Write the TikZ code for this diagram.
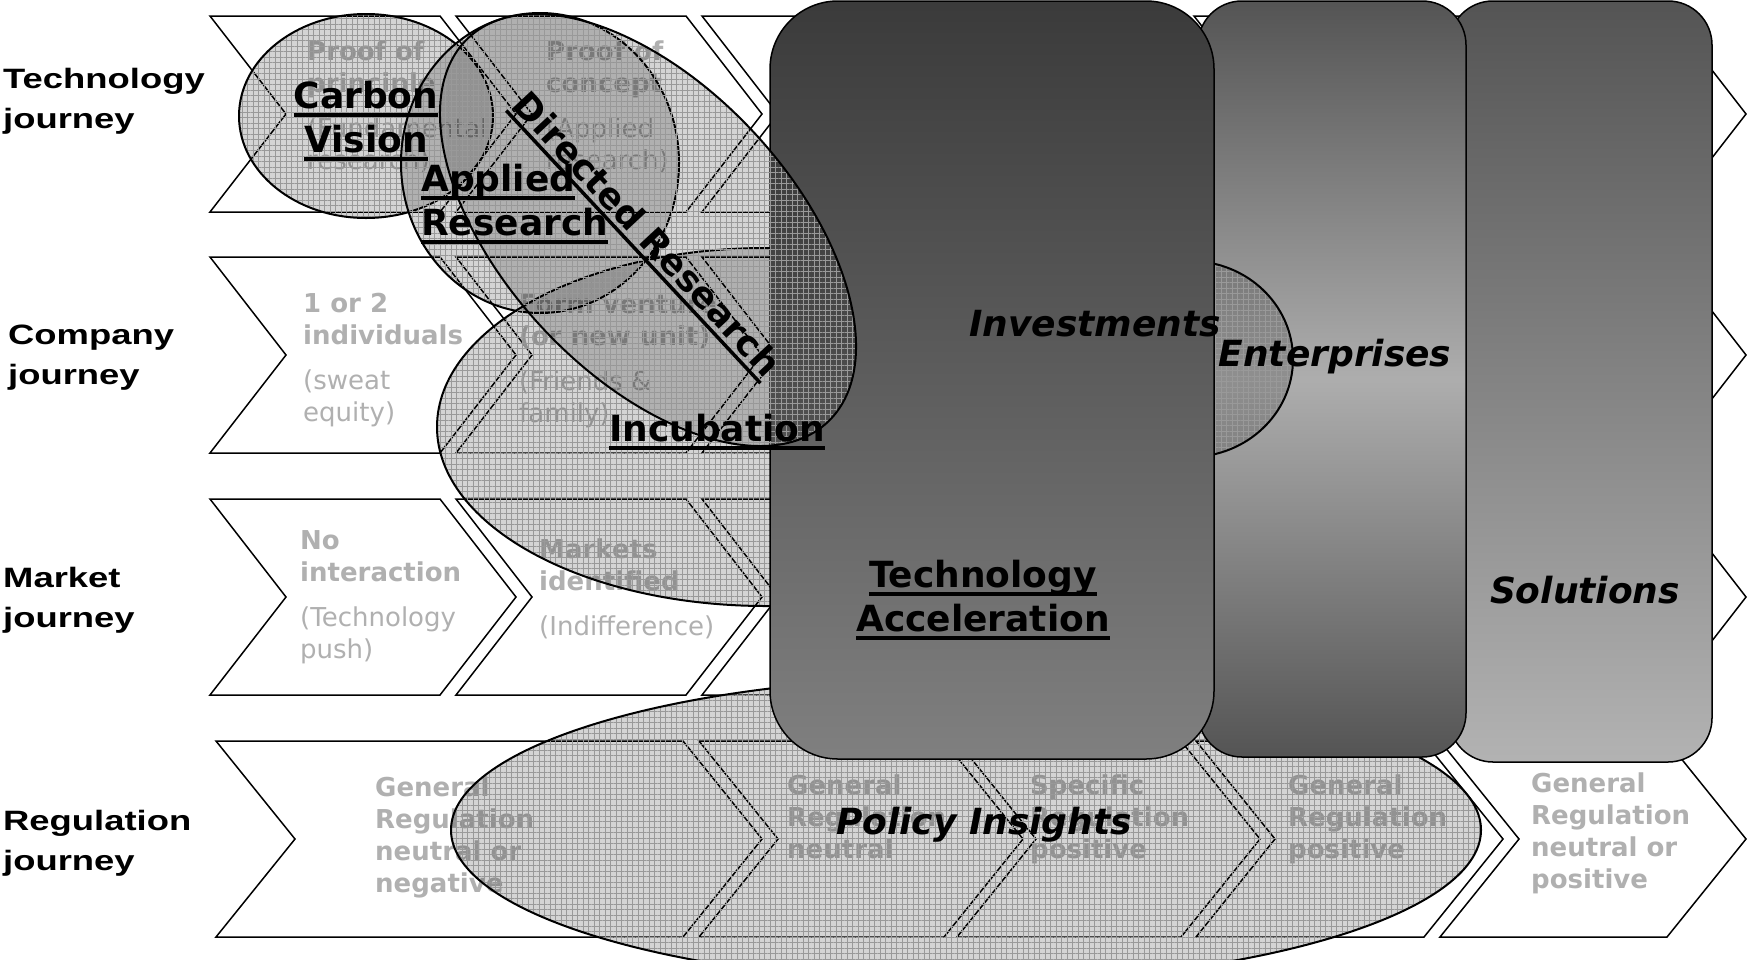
\documentclass[tikz,border=0pt]{standalone}
\usepackage{fontspec}
\setmainfont{DejaVu Sans}
\newfontfamily\labfont[FakeStretch=1.3]{Liberation Sans}
\usetikzlibrary{patterns.meta}
\definecolor{ctxtgray}{HTML}{B0B0B0}
\newsavebox\ulbox
\newcommand\ulx[1]{\sbox\ulbox{#1}\rlap{\rule[-8pt]{\wd\ulbox}{3.5pt}}\usebox\ulbox}
% chevron: x0, x1, top, bottom, depth
\newcommand\chev[5]{%
  \pgfmathsetmacro\cvmid{(#3+#4)/2}%
  \pgfmathsetmacro\cvtip{#2+#5}%
  \pgfmathsetmacro\cvnot{#1+#5}%
  \draw[chevron] (#1,#3) -- (#2,#3) -- (\cvtip,\cvmid) -- (#2,#4) -- (#1,#4) -- (\cvnot,\cvmid) -- cycle;}
% bubble: centre, rx, ry, angle
\newcommand\bubble[4]{%
  \fill[black, fill opacity=0.17, rotate around={#4:(#1)}] (#1) ellipse[x radius=#2, y radius=#3];
  \fill[pattern={Hatch[angle=0,distance=5.5pt,line width=0.45pt]}, pattern color=black!40, fill opacity=0.5, rotate around={#4:(#1)}] (#1) ellipse[x radius=#2, y radius=#3];
  \draw[line width=2pt, rotate around={#4:(#1)}] (#1) ellipse[x radius=#2, y radius=#3];}
\begin{document}
\begin{tikzpicture}[x=1pt, y=-1pt,
  chevron/.style={draw=black, line width=1.5pt, fill=white, line join=miter},
  ctxt/.style={text=ctxtgray, font=\fontsize{26}{32}\selectfont, align=left, inner sep=0pt, anchor=north west},
  lab/.style={font=\labfont\fontsize{28}{40}\selectfont\bfseries, align=left, inner sep=0pt, anchor=west},
  bigtxt/.style={font=\fontsize{36}{44}\selectfont\bfseries, inner sep=0pt, text=black},
  bigit/.style={font=\fontsize{36}{44}\selectfont\bfseries\itshape, inner sep=0pt, text=black},
  boxline/.style={draw=black, line width=1.5pt}
]
\useasboundingbox (0,0) rectangle (1747,959);
\fill[white] (0,0) rectangle (1747,959);

% left labels
\node[lab] (lt) at (3,101) {Technology\\journey};
\node[lab] (lc) at (8,358) {Company\\journey};
\node[lab] (lm) at (3,600) {Market\\journey};
\node[lab] (lr) at (3,843) {Regulation\\journey};

% chevrons rows 1-3
\foreach \yt/\yb in {16/212, 257/453, 499/695}{
  \foreach \xo in {210,456,702,948,1194,1440}{
    \pgfmathsetmacro\xe{\xo+230}
    \chev{\xo}{\xe}{\yt}{\yb}{76}
  }
}
% row 4
\chev{216}{683}{741}{937}{79}
\chev{699}{944}{741}{937}{79}
\chev{957}{1181}{741}{937}{79}
\chev{1196}{1424}{741}{937}{79}
\chev{1440}{1667}{741}{937}{79}

% chevron texts
\node[ctxt] (t11) at (307,40.5) {\textbf{Proof of}\\\textbf{principle}\\[13pt](Fundamental\\research)};
\node[ctxt] (t12) at (546,40.5) {\textbf{Proof of}\\\textbf{concept}\\[13pt](Applied\\research)};
\node[ctxt] (t21) at (303,292.5) {\textbf{1 or 2}\\\textbf{individuals}\\[13pt](sweat\\equity)};
\node[ctxt] (t22) at (519,294.5) {\textbf{Form venture}\\\textbf{(or new unit)}\\[13pt](Friends \&\\family)};
\node[ctxt] (t31) at (300,530.5) {\textbf{No}\\\textbf{interaction}\\[13pt](Technology\\push)};
\node[ctxt] (t32) at (539,538.5) {\textbf{Markets}\\\textbf{identified}\\[13pt](Indifference)};
\node[ctxt, font=\fontsize{26}{32}\selectfont\bfseries] (t41) at (375,776.5) {General\\Regulation\\neutral or\\negative};
\node[ctxt, font=\fontsize{26}{32}\selectfont\bfseries] (t42) at (787,774.5) {General\\Regulation\\neutral};
\node[ctxt, font=\fontsize{26}{32}\selectfont\bfseries] (t43) at (1030,774.5) {Specific\\Regulation\\positive};
\node[ctxt, font=\fontsize{26}{32}\selectfont\bfseries] (t44) at (1288,774.5) {General\\Regulation\\positive};
\node[ctxt, font=\fontsize{26}{32}\selectfont\bfseries] (t45) at (1531,772.5) {General\\Regulation\\neutral or\\positive};

% bubbles below the boxes
\bubble{366,116}{127}{102}{0}
\bubble{540,163}{139}{150}{0}
\bubble{766,427}{329}{179}{0}
\bubble{966,830}{515}{153}{0}

% boxes
\shadedraw[boxline, rounded corners=44pt, top color=black!67, bottom color=black!30] (1449,1) rectangle (1712,762);
\shadedraw[boxline, rounded corners=44pt, top color=black!67, bottom color=black!67, middle color=black!32] (1198,1) rectangle (1466,757);
\bubble{1190,359}{103}{98}{0}
\shadedraw[boxline, rounded corners=68pt, top color=black!77, bottom color=black!50] (770,1) rectangle (1214,759);

% directed research bubble over the first box
\bubble{648,230}{263}{144}{-47}

% main labels
\node[bigtxt, align=center] (carbon) at (366,121) {\ulx{Carbon}\\\ulx{Vision}};
\node[bigtxt, align=left, anchor=west] (applied) at (421,204) {\ulx{Applied}\\\ulx{Research}};
\node[bigtxt, rotate=-47] (directed) at (645,236) {\ulx{Directed Research}};
\node[bigtxt] (incub) at (717,432) {\ulx{Incubation}};
\node[bigit] (invest) at (1095,324) {Investments};
\node[bigit] (enter) at (1335,357) {Enterprises};
\node[bigtxt, align=center] (techacc) at (983,600) {\ulx{Technology}\\\ulx{Acceleration}};
\node[bigit] (solut) at (1585,590) {Solutions};
\node[bigit] (policy) at (984,825) {Policy Insights};
\end{tikzpicture}
\end{document}
